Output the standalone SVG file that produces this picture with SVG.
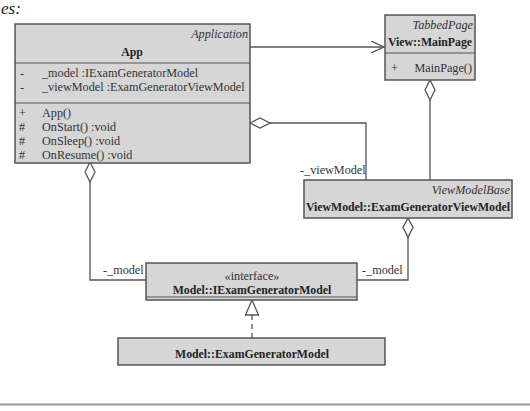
<svg xmlns="http://www.w3.org/2000/svg" width="530" height="411" viewBox="0 0 530 411">
<defs>
<style>
.box{fill:#d6d6d6;stroke:#555;stroke-width:1.5}
.sep{stroke:#555;stroke-width:1.2;fill:none}
.ln{stroke:#555;stroke-width:1.3;fill:none}
.dia{fill:#fff;stroke:#555;stroke-width:1.3}
text{font-family:'Liberation Serif','DejaVu Serif',serif;font-size:12.2px;fill:#333}
.b{font-weight:bold;fill:#222;font-size:11.8px}
.i{font-style:italic}
.lbl{fill:#333}
</style>
<marker id="open" viewBox="0 0 14 12" refX="13" refY="6" markerWidth="14" markerHeight="12" markerUnits="userSpaceOnUse" orient="auto">
<path d="M0,0 L13,6 L0,12" fill="none" stroke="#555" stroke-width="1.3"/>
</marker>
</defs>
<rect width="530" height="411" fill="#fff"/>
<text x="1" y="14" class="i" style="font-size:17px;fill:#222">es:</text>

<g id="connectors">
<path class="ln" d="M250,47 H384" marker-end="url(#open)"/>
<path class="ln" d="M270,123 H366 V180"/>
<path class="dia" d="M250,123 L260,118 L270,123 L260,128 Z"/>
<path class="ln" d="M430,100 V180"/>
<path class="dia" d="M430,80 L435,90 L430,100 L425,90 Z"/>
<path class="ln" d="M90,182 V280 H146"/>
<path class="dia" d="M90,162 L95,172 L90,182 L85,172 Z"/>
<path class="ln" d="M408,237 V280 H357"/>
<path class="dia" d="M408,218 L413,227.5 L408,237 L403,227.5 Z"/>
<path class="ln" d="M252,315 V338" stroke-dasharray="5,4"/>
<path d="M252,300 L258.5,315 L245.5,315 Z" fill="#fff" stroke="#555" stroke-width="1.3"/>
<text x="300" y="174" class="lbl">-_viewModel</text>
<text x="103" y="274" class="lbl">-_model</text>
<text x="362" y="274" class="lbl">-_model</text>
</g>

<g id="App">
<rect class="box" x="15" y="24" width="235" height="139"/>
<line class="sep" x1="15" y1="63" x2="250" y2="63"/>
<line class="sep" x1="15" y1="103" x2="250" y2="103"/>
<text x="248" y="38" class="i" text-anchor="end">Application</text>
<text x="132" y="56" class="b" text-anchor="middle">App</text>
<text x="20" y="77">-</text><text x="42" y="77">_model :IExamGeneratorModel</text>
<text x="20" y="91">-</text><text x="42" y="91">_viewModel :ExamGeneratorViewModel</text>
<text x="19" y="117">+</text><text x="42" y="117">App()</text>
<text x="19" y="131">#</text><text x="42" y="131">OnStart() :void</text>
<text x="19" y="145">#</text><text x="42" y="145">OnSleep() :void</text>
<text x="19" y="159">#</text><text x="42" y="159">OnResume() :void</text>
</g>

<g id="MainPage">
<rect class="box" x="385" y="15" width="90" height="65"/>
<line class="sep" x1="385" y1="53" x2="475" y2="53"/>
<text x="473" y="29" class="i" text-anchor="end">TabbedPage</text>
<text x="430" y="46" class="b" text-anchor="middle">View::MainPage</text>
<text x="391" y="72">+</text>
<text x="472" y="72" text-anchor="end">MainPage()</text>
</g>

<g id="ExamGeneratorViewModel">
<rect class="box" x="304" y="180" width="208" height="38"/>
<text x="510" y="194" class="i" text-anchor="end">ViewModelBase</text>
<text x="408" y="211" class="b" text-anchor="middle">ViewModel::ExamGeneratorViewModel</text>
</g>

<g id="IExamGeneratorModel">
<rect class="box" x="146" y="263" width="211" height="37"/>
<line class="sep" x1="146" y1="297" x2="357" y2="297"/>
<text x="252" y="280" text-anchor="middle">«interface»</text>
<text x="252" y="294" class="b" text-anchor="middle">Model::IExamGeneratorModel</text>
</g>

<g id="ExamGeneratorModel">
<rect class="box" x="118" y="338" width="267" height="27"/>
<text x="252" y="358" class="b" text-anchor="middle">Model::ExamGeneratorModel</text>
</g>

<line x1="0" y1="404.5" x2="530" y2="404.5" stroke="#999" stroke-width="2"/>
</svg>
